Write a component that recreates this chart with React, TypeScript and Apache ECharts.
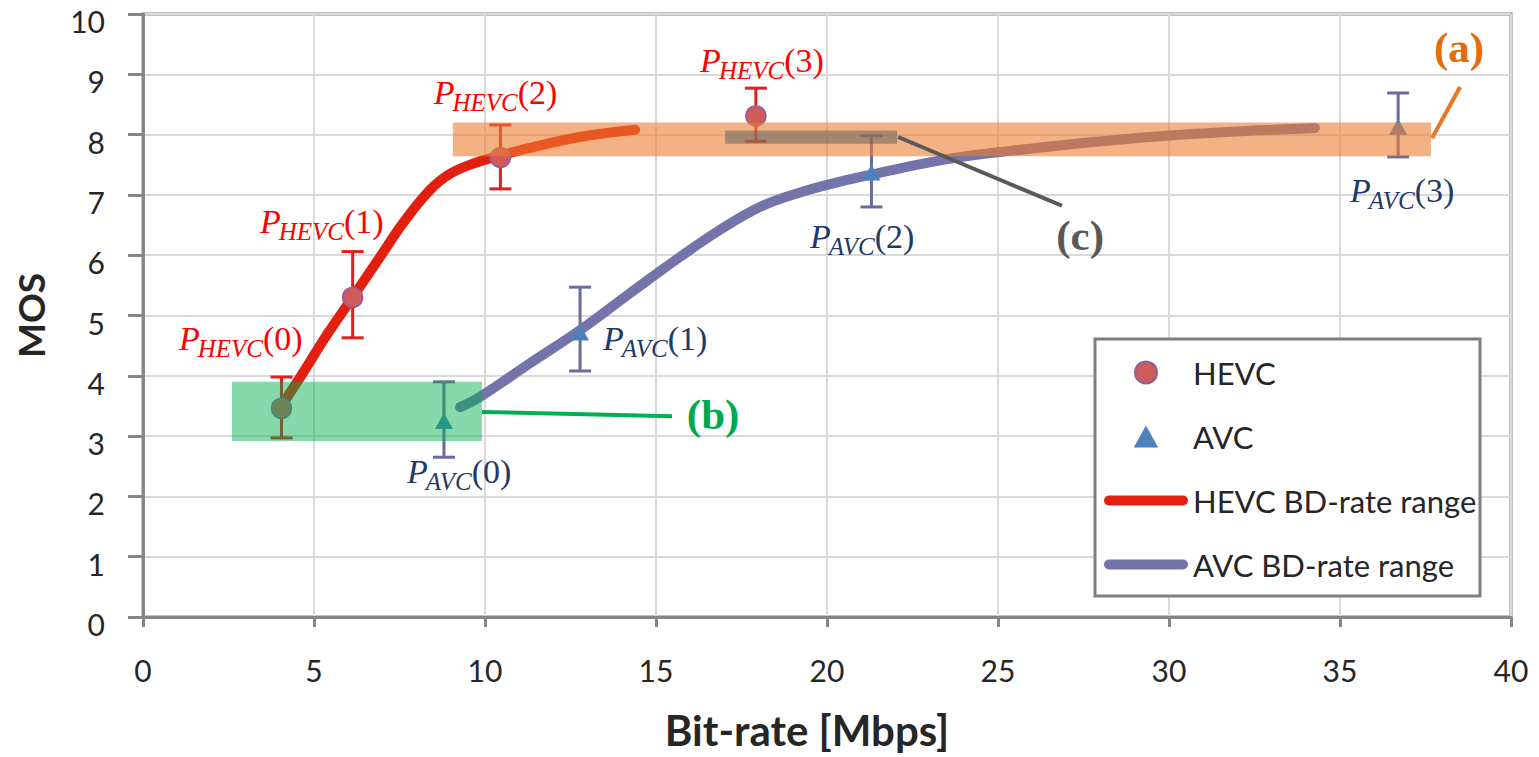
import React, { useEffect, useRef } from "react";
import * as echarts from "echarts";

// ---- data ----
const hevcX = [4.05, 6.13, 10.45, 17.92];
const hevcY = [3.46, 5.3, 7.62, 8.31];
const hevcLow = [2.97, 4.63, 7.1, 7.89];
const hevcHigh = [3.98, 6.06, 8.16, 8.77];

const avcX = [8.8, 12.78, 21.3, 36.7];
const avcY = [3.25, 4.72, 7.37, 8.13];
const avcLow = [2.65, 4.08, 6.8, 7.63];
const avcHigh = [3.9, 5.47, 7.98, 8.69];

const hevcCurveX = [4.05, 4.68, 5.4, 6.14, 6.93, 7.6, 8.39, 8.98, 9.71, 10.44, 11.52, 12.98, 14.39];
const hevcCurveY = [3.5, 4.05, 4.7, 5.31, 5.97, 6.53, 7.08, 7.35, 7.53, 7.65, 7.81, 7.98, 8.08];

const avcCurveX = [9.27, 9.85, 11.32, 12.78, 14.24, 15.7, 16.87, 18.04, 19.21, 20.38, 21.32, 23.39, 25.06, 29.44, 34.27];
const avcCurveY = [3.48, 3.65, 4.21, 4.76, 5.37, 5.97, 6.42, 6.8, 7.04, 7.22, 7.34, 7.58, 7.71, 7.96, 8.11];

// point labels P_xxx(n): left x, baseline y (data units)
const hevcLabelX = [1.05, 3.42, 8.5, 16.29];
const hevcLabelY = [4.43, 6.37, 8.5, 9.04];
const avcLabelX = [7.72, 13.45, 19.5, 35.29];
const avcLabelY = [2.22, 4.43, 6.12, 6.88];

// annotations (a), (b), (c)
const tagNames = ["(a)", "(b)", "(c)"];
const rectX0 = [9.06, 2.6, 17.02];
const rectX1 = [37.66, 9.91, 22.05];
const rectY0 = [7.64, 2.92, 7.85];
const rectY1 = [8.2, 3.9, 8.07];
const leadX0 = [37.69, 9.91, 22.08];
const leadY0 = [7.94, 3.4, 7.96];
const leadX1 = [38.51, 15.47, 26.87];
const leadY1 = [8.79, 3.33, 6.82];
const tagX = [38.48, 16.67, 27.4];
const tagY = [9.45, 3.35, 6.33];

const rectFill = ["rgba(237,125,49,0.6)", "rgba(0,176,80,0.48)", "rgba(100,100,100,0.55)"];
const leadColor = ["#e87722", "#00b050", "#595959"];
const tagColor = ["#e46c0a", "#00a84f", "#595959"];

const SANS = 'Lato, "Open Sans", sans-serif';
const SERIF = '"Liberation Serif", "Times New Roman", serif';

let measureCtx: CanvasRenderingContext2D | null = null;
function measure(text: string, font: string): number {
  if (!measureCtx) measureCtx = document.createElement("canvas").getContext("2d");
  if (!measureCtx) return text.length * 12;
  measureCtx.font = font;
  return measureCtx.measureText(text).width;
}

function pLabel(px: number, py: number, sub: string, num: number, color: string) {
  const fm = 34;
  const fs = 25;
  const wP = measure("P", `italic ${fm}px ${SERIF}`);
  const wS = measure(sub, `italic ${fs}px ${SERIF}`);
  const base = { fill: color, fontFamily: SERIF, align: "left", verticalAlign: "middle" };
  return {
    type: "group",
    children: [
      { type: "text", x: px, y: py - 0.34 * fm, style: { ...base, text: "P", fontStyle: "italic", fontSize: fm } },
      { type: "text", x: px + wP - 2, y: py + 7 - 0.34 * fs, style: { ...base, text: sub, fontStyle: "italic", fontSize: fs } },
      { type: "text", x: px + wP - 2 + wS, y: py - 0.34 * fm, style: { ...base, text: `(${num})`, fontStyle: "normal", fontSize: fm } },
    ],
  };
}

function errorBarSeries(name: string, xs: number[], lo: number[], hi: number[], color: string) {
  return {
    type: "custom",
    name,
    silent: true,
    z: 2,
    data: xs.map((x, i) => [x, lo[i], hi[i]]),
    encode: { x: 0, y: [1, 2] },
    renderItem: (_p: any, api: any) => {
      const x = api.value(0);
      const top = api.coord([x, api.value(2)]);
      const bot = api.coord([x, api.value(1)]);
      const cw = 11;
      const style = { stroke: color, lineWidth: 3 };
      return {
        type: "group",
        children: [
          { type: "line", shape: { x1: top[0], y1: top[1], x2: bot[0], y2: bot[1] }, style },
          { type: "line", shape: { x1: top[0] - cw, y1: top[1], x2: top[0] + cw, y2: top[1] }, style },
          { type: "line", shape: { x1: bot[0] - cw, y1: bot[1], x2: bot[0] + cw, y2: bot[1] }, style },
        ],
      };
    },
  };
}

function labelSeries(name: string, xs: number[], ys: number[], sub: string, color: string) {
  return {
    type: "custom",
    name,
    silent: true,
    z: 6,
    data: xs.map((x, i) => [x, ys[i], i]),
    encode: { x: 0, y: 1 },
    renderItem: (_p: any, api: any) => {
      const pt = api.coord([api.value(0), api.value(1)]);
      return pLabel(pt[0], pt[1], sub, api.value(2), color);
    },
  };
}

export default function App() {
  const ref = useRef<HTMLDivElement>(null);

  useEffect(() => {
    if (!ref.current) return;
    const chart = echarts.init(ref.current, undefined, { renderer: "svg" });

    const axisColor = "#868686";
    const textColor = "#262626";

    const option: any = {
      animation: false,
      backgroundColor: "#ffffff",
      grid: {
        left: 143,
        right: 28,
        top: 14,
        bottom: 140,
        show: true,
        borderColor: axisColor,
        borderWidth: 3,
        containLabel: false,
      },
      xAxis: {
        type: "value",
        min: 0,
        max: 40,
        interval: 5,
        name: "Bit-rate [Mbps]",
        nameLocation: "middle",
        nameGap: 92,
        nameTextStyle: {
          fontSize: 42,
          fontWeight: "bold",
          fontFamily: SANS,
          color: textColor,
          padding: [0, 40, 0, 0],
        },
        axisLine: { show: true, lineStyle: { color: axisColor, width: 3 } },
        axisTick: { show: true, length: 10, lineStyle: { color: axisColor, width: 3 } },
        splitLine: { show: true, lineStyle: { color: "#d9d9d9", width: 2 } },
        axisLabel: { fontSize: 30, fontFamily: SANS, color: textColor, margin: 38 },
      },
      yAxis: {
        type: "value",
        min: 0,
        max: 10,
        interval: 1,
        name: "MOS",
        nameLocation: "middle",
        nameGap: 94,
        nameTextStyle: { fontSize: 37, fontWeight: "bold", fontFamily: SANS, color: textColor },
        axisLine: { show: true, lineStyle: { color: axisColor, width: 3 } },
        axisTick: { show: true, length: 15, lineStyle: { color: axisColor, width: 3 } },
        splitLine: { show: true, lineStyle: { color: "#d9d9d9", width: 2 } },
        axisLabel: {
          fontSize: 30,
          fontFamily: SANS,
          color: textColor,
          margin: 38,
          verticalAlign: "top",
          lineHeight: 14,
        },
      },
      legend: {
        orient: "vertical",
        left: 1104,
        top: 357,
        padding: 0,
        itemWidth: 84,
        itemHeight: 22,
        itemGap: 33,
        z: 10,
        selectedMode: false,
        textStyle: { fontSize: 31, fontFamily: SANS, color: textColor },
        data: [
          { name: "HEVC", icon: "circle" },
          { name: "AVC", icon: "path://M5,0 L10,9 L0,9 Z" },
          {
            name: "HEVC BD-rate range",
            icon: "path://M5,0 L79,0 A5,5 0 0 1 79,10 L5,10 A5,5 0 0 1 5,0 Z",
            itemStyle: { color: "#e3200f", borderWidth: 0 },
          },
          {
            name: "AVC BD-rate range",
            icon: "path://M5,0 L79,0 A5,5 0 0 1 79,10 L5,10 A5,5 0 0 1 5,0 Z",
            itemStyle: { color: "#7374a9", borderWidth: 0 },
          },
        ],
      },
      graphic: [
        {
          type: "rect",
          z: 8,
          shape: { x: 1095, y: 339, width: 385, height: 257 },
          style: { fill: "#ffffff", stroke: "#7f7f7f", lineWidth: 3 },
        },
      ],
      series: [
        errorBarSeries("HEVC error", hevcX, hevcLow, hevcHigh, "#e0201a"),
        errorBarSeries("AVC error", avcX, avcLow, avcHigh, "#6b6ba0"),
        {
          name: "HEVC BD-rate range",
          type: "line",
          z: 3,
          smooth: 0.4,
          symbol: "none",
          showSymbol: false,
          silent: true,
          data: hevcCurveX.map((x, i) => [x, hevcCurveY[i]]),
          itemStyle: { color: "#e3200f" },
          lineStyle: { color: "#e3200f", width: 10, cap: "round" },
        },
        {
          name: "AVC BD-rate range",
          type: "line",
          z: 3,
          smooth: 0.4,
          symbol: "none",
          showSymbol: false,
          silent: true,
          data: avcCurveX.map((x, i) => [x, avcCurveY[i]]),
          itemStyle: { color: "#7374a9" },
          lineStyle: { color: "#7374a9", width: 10, cap: "round" },
        },
        {
          name: "HEVC",
          type: "scatter",
          z: 4,
          symbol: "circle",
          symbolSize: 20,
          silent: true,
          data: hevcX.map((x, i) => [x, hevcY[i]]),
          itemStyle: { color: "#cd5c5a", borderColor: "#8b5fa0", borderWidth: 1.5, opacity: 1 },
        },
        {
          name: "AVC",
          type: "scatter",
          z: 4,
          symbol: "triangle",
          symbolSize: [18, 16],
          silent: true,
          data: avcX.map((x, i) => [x, avcY[i]]),
          itemStyle: { color: "#4f81bd", opacity: 1 },
        },
        labelSeries("HEVC labels", hevcLabelX, hevcLabelY, "HEVC", "#ff0000"),
        labelSeries("AVC labels", avcLabelX, avcLabelY, "AVC", "#1f3a68"),
        {
          type: "custom",
          name: "annotations",
          silent: true,
          z: 5,
          data: tagNames.map((_, i) => [
            rectX0[i], rectY0[i], rectX1[i], rectY1[i],
            leadX0[i], leadY0[i], leadX1[i], leadY1[i],
            tagX[i], tagY[i], i,
          ]),
          encode: { x: 0, y: 1 },
          renderItem: (_p: any, api: any) => {
            const i = api.value(10);
            const a = api.coord([api.value(0), api.value(1)]);
            const b = api.coord([api.value(2), api.value(3)]);
            const l0 = api.coord([api.value(4), api.value(5)]);
            const l1 = api.coord([api.value(6), api.value(7)]);
            const t = api.coord([api.value(8), api.value(9)]);
            return {
              type: "group",
              children: [
                {
                  type: "rect",
                  shape: {
                    x: Math.min(a[0], b[0]),
                    y: Math.min(a[1], b[1]),
                    width: Math.abs(b[0] - a[0]),
                    height: Math.abs(b[1] - a[1]),
                  },
                  style: { fill: rectFill[i] },
                },
                {
                  type: "line",
                  shape: { x1: l0[0], y1: l0[1], x2: l1[0], y2: l1[1] },
                  style: { stroke: leadColor[i], lineWidth: 4 },
                },
                {
                  type: "text",
                  x: t[0],
                  y: t[1],
                  style: {
                    text: tagNames[i],
                    fill: tagColor[i],
                    fontFamily: SERIF,
                    fontWeight: "bold",
                    fontSize: 43,
                    align: "center",
                    verticalAlign: "middle",
                  },
                },
              ],
            };
          },
        },
      ],
    };

    chart.setOption(option);
    return () => chart.dispose();
  }, []);

  return (
    <div
      ref={ref}
      style={{ position: "absolute", left: 0, top: 0, width: 1539, height: 757, background: "#fff" }}
    />
  );
}
